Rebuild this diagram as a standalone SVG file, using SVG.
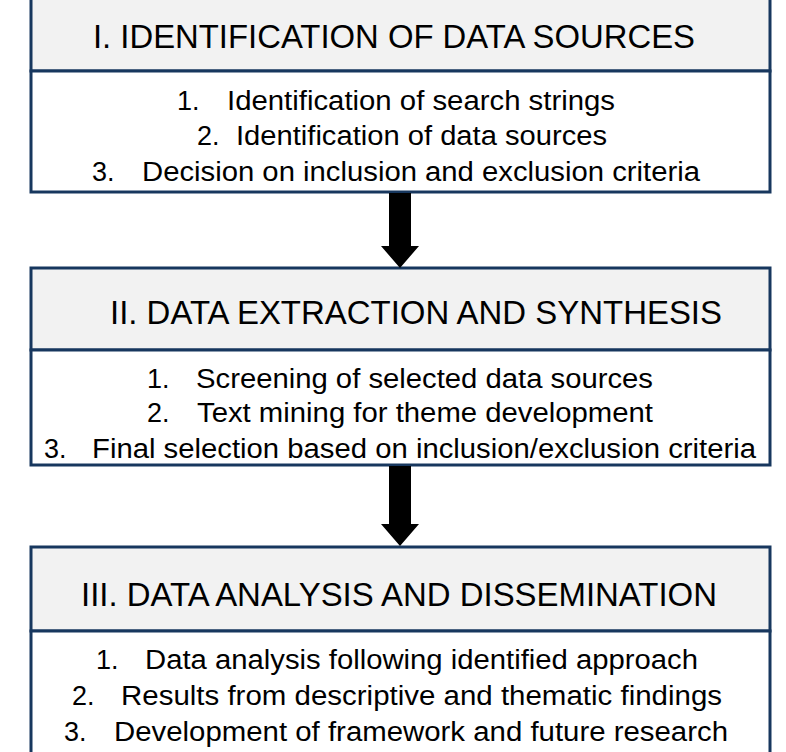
<svg xmlns="http://www.w3.org/2000/svg" width="786" height="752" viewBox="0 0 786 752">
<style>
.box{fill:#ffffff;stroke:#17375e;stroke-width:3}
.hdr{fill:#f2f2f2;stroke:#17375e;stroke-width:3}
text{font-family:"Liberation Sans",Arial,sans-serif;fill:#000}
.h{font-size:33px}
.b{font-size:27px}
</style>
<rect width="786" height="752" fill="#fff"/>
<g id="node1">
<rect class="hdr" x="31" y="-5" width="739" height="76"/>
<rect class="box" x="31" y="71" width="739" height="121"/>
<text class="h" x="93" y="48" textLength="602" lengthAdjust="spacingAndGlyphs">I. IDENTIFICATION OF DATA SOURCES</text>
<text class="b" y="110"><tspan x="177">1.</tspan><tspan x="227" textLength="388" lengthAdjust="spacingAndGlyphs">Identification of search strings</tspan></text>
<text class="b" y="145"><tspan x="197">2.</tspan><tspan x="236" textLength="371" lengthAdjust="spacingAndGlyphs">Identification of data sources</tspan></text>
<text class="b" y="181"><tspan x="92">3.</tspan><tspan x="142" textLength="558" lengthAdjust="spacingAndGlyphs">Decision on inclusion and exclusion criteria</tspan></text>
</g>
<g id="node2">
<rect class="hdr" x="31" y="268" width="739" height="82"/>
<rect class="box" x="31" y="350" width="739" height="115"/>
<text class="h" x="110" y="324" textLength="612" lengthAdjust="spacingAndGlyphs">II. DATA EXTRACTION AND SYNTHESIS</text>
<text class="b" y="388"><tspan x="147">1.</tspan><tspan x="196" textLength="457" lengthAdjust="spacingAndGlyphs">Screening of selected data sources</tspan></text>
<text class="b" y="422"><tspan x="147">2.</tspan><tspan x="197" textLength="456" lengthAdjust="spacingAndGlyphs">Text mining for theme development</tspan></text>
<text class="b" y="458"><tspan x="44">3.</tspan><tspan x="92" textLength="664" lengthAdjust="spacingAndGlyphs">Final selection based on inclusion/exclusion criteria</tspan></text>
</g>
<g id="node3">
<rect class="hdr" x="31" y="547" width="739" height="84"/>
<rect class="box" x="31" y="631" width="739" height="125"/>
<text class="h" x="81" y="606" textLength="636" lengthAdjust="spacingAndGlyphs">III. DATA ANALYSIS AND DISSEMINATION</text>
<text class="b" y="669"><tspan x="96">1.</tspan><tspan x="145" textLength="553" lengthAdjust="spacingAndGlyphs">Data analysis following identified approach</tspan></text>
<text class="b" y="705"><tspan x="72">2.</tspan><tspan x="121" textLength="601" lengthAdjust="spacingAndGlyphs">Results from descriptive and thematic findings</tspan></text>
<text class="b" y="741"><tspan x="64">3.</tspan><tspan x="114" textLength="614" lengthAdjust="spacingAndGlyphs">Development of framework and future research</tspan></text>
</g>
<g id="connectors" fill="#000">
<polygon points="389,193 411,193 411,246 419,246 400,268 381,246 389,246"/>
<polygon points="389,466 411,466 411,524 419,524 400,546 381,524 389,524"/>
</g>
</svg>
